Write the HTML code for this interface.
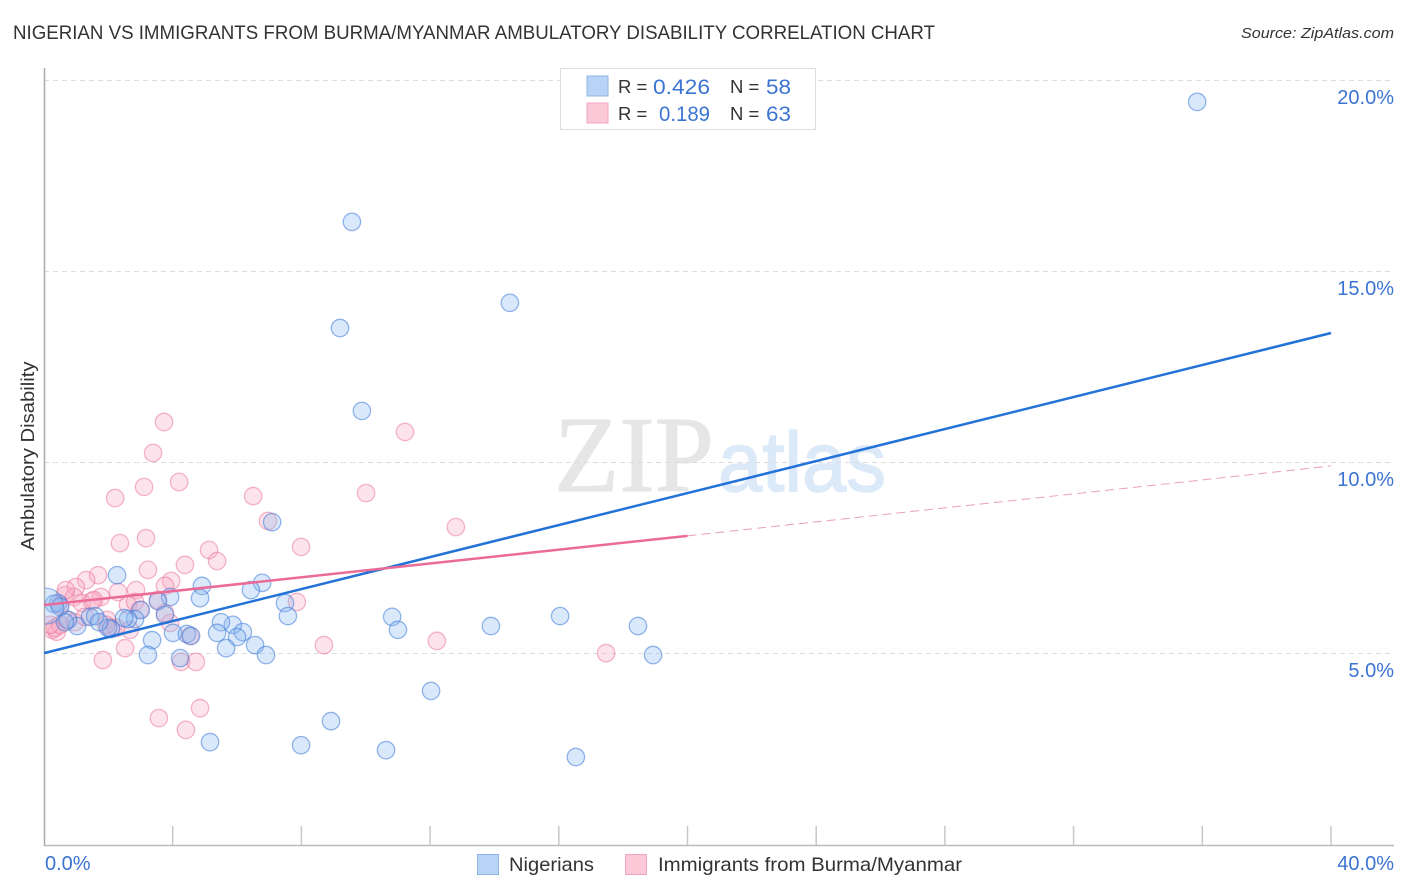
<!DOCTYPE html>
<html lang="en">
<head>
<meta charset="utf-8">
<title>Nigerian vs Immigrants from Burma/Myanmar Ambulatory Disability Correlation Chart</title>
<style>
html,body{margin:0;padding:0;background:#fff;}
svg{display:block;font-family:"Liberation Sans",sans-serif;}
</style>
</head>
<body>
<svg id="chart" xmlns="http://www.w3.org/2000/svg" width="1406" height="892" viewBox="0 0 1406 892">
  <defs>
    <clipPath id="plot-clip"><rect x="45" y="60" width="1349" height="785"/></clipPath>
  </defs>
  <rect x="0" y="0" width="1406" height="892" fill="#ffffff"/>
  <text x="13" y="39" font-size="19.5" fill="#333333" textLength="922" lengthAdjust="spacingAndGlyphs">NIGERIAN VS IMMIGRANTS FROM BURMA/MYANMAR AMBULATORY DISABILITY CORRELATION CHART</text>
  <text x="1394" y="38" font-size="15" font-style="italic" fill="#333333" text-anchor="end" textLength="153" lengthAdjust="spacingAndGlyphs">Source: ZipAtlas.com</text>

  <g>
    <text x="554" y="491" font-family="'Liberation Serif',serif" font-size="108" fill="#e6e6e6" stroke="#e6e6e6" stroke-width="1" textLength="160" lengthAdjust="spacingAndGlyphs">ZIP</text>
    <text x="718" y="491" font-size="84" fill="#dce9f9" stroke="#dce9f9" stroke-width="1.5" textLength="168" lengthAdjust="spacingAndGlyphs">atlas</text>
  </g>

  <g id="grid"></g>
  <g id="axes"></g>
  <g id="points" clip-path="url(#plot-clip)"></g>
  <g id="trends"></g>

  <text transform="translate(34,456) rotate(-90)" font-size="18.5" fill="#333333" text-anchor="middle" textLength="189" lengthAdjust="spacingAndGlyphs">Ambulatory Disability</text>

  <g>
    <rect x="560.5" y="68.5" width="255" height="61" fill="#ffffff" stroke="#dddddd" stroke-width="1"/>
    <rect x="587" y="76" width="21" height="20" fill="#b9d3f6" stroke="#8db4e6" stroke-width="1"/>
    <rect x="587" y="103" width="21" height="20" fill="#fbc8d8" stroke="#f0a6bf" stroke-width="1"/>
    <text x="618" y="93" font-size="18.5" fill="#333333">R =</text>
    <text x="653" y="94" font-size="21.5" fill="#3b74d2" textLength="57" lengthAdjust="spacingAndGlyphs">0.426</text>
    <text x="730" y="93" font-size="18.5" fill="#333333">N =</text>
    <text x="766" y="94" font-size="21.5" fill="#3b74d2" textLength="25" lengthAdjust="spacingAndGlyphs">58</text>
    <text x="618" y="120" font-size="18.5" fill="#333333">R =</text>
    <text x="659" y="121" font-size="21.5" fill="#3b74d2" textLength="51" lengthAdjust="spacingAndGlyphs">0.189</text>
    <text x="730" y="120" font-size="18.5" fill="#333333">N =</text>
    <text x="766" y="121" font-size="21.5" fill="#3b74d2" textLength="25" lengthAdjust="spacingAndGlyphs">63</text>
  </g>

  <g>
    <rect x="477.5" y="854.5" width="21" height="20" fill="#b9d3f6" stroke="#8db4e6" stroke-width="1"/>
    <text x="509" y="871" font-size="19.5" fill="#333333" textLength="85" lengthAdjust="spacingAndGlyphs">Nigerians</text>
    <rect x="625.5" y="854.5" width="21" height="20" fill="#fbc8d8" stroke="#f0a6bf" stroke-width="1"/>
    <text x="658" y="871" font-size="19.5" fill="#333333" textLength="304" lengthAdjust="spacingAndGlyphs">Immigrants from Burma/Myanmar</text>
  </g>
</svg>
<script>
// ---- chart data (percent values) ----
const yTickValues = [5, 10, 15, 20];
const yTickLabels = ["5.0%", "10.0%", "15.0%", "20.0%"];
const xTickValues = [4, 8, 12, 16, 20, 24, 28, 32, 36, 40];
const xEndValues = [0, 40];
const xEndLabels = ["0.0%", "40.0%"];

const nigerianX = [35.84,9.57,14.48,9.20,9.88,7.09,2.27,6.78,4.91,6.43,3.92,4.85,7.49,3.54,7.58,10.82,16.04,13.89,18.46,11.00,18.93,3.76,3.01,2.83,2.61,2.49,5.87,5.50,4.01,5.38,6.18,4.44,4.57,6.00,3.36,5.66,6.56,6.90,3.23,4.23,12.03,8.92,5.16,7.99,10.63,16.53,0.44,0.31,1.03,1.43,1.59,2.08,1.99,0.75,1.71,0.65,0.50];
const nigerianY = [19.44,16.30,14.18,13.52,11.35,8.44,7.05,6.85,6.77,6.66,6.48,6.45,6.32,6.37,5.98,5.96,5.98,5.72,5.72,5.62,4.96,6.01,6.14,5.90,5.90,5.93,5.75,5.82,5.54,5.54,5.56,5.51,5.46,5.43,5.35,5.14,5.22,4.96,4.96,4.88,4.02,3.23,2.68,2.60,2.47,2.29,6.32,6.30,5.72,5.96,5.98,5.64,5.67,5.88,5.82,5.82,6.22];
const nigerianLargeX = [0.05];
const nigerianLargeY = [6.24];

const burmaX = [3.73,3.39,11.22,4.20,3.11,2.21,6.50,10.01,6.96,12.80,2.36,3.17,7.99,5.13,5.38,4.38,3.23,1.68,1.31,3.95,3.76,0.99,2.30,2.86,0.65,1.77,3.54,0.93,7.86,2.61,1.18,2.83,1.49,1.55,0.50,2.67,2.24,3.92,3.76,4.54,2.52,8.70,12.21,17.47,1.83,4.26,4.72,4.85,3.57,4.41,0.25,0.40,0.34,0.50,0.71,0.96,1.96,2.08,0.19,2.98,1.27,0.68,1.93];
const burmaY = [11.06,10.25,10.80,9.49,9.36,9.07,9.12,9.20,8.47,8.31,7.89,8.02,7.79,7.71,7.42,7.32,7.19,7.05,6.92,6.90,6.77,6.74,6.61,6.66,6.53,6.48,6.40,6.48,6.35,6.27,6.32,6.35,6.37,6.40,6.27,5.62,5.67,5.80,6.06,5.46,5.14,5.22,5.33,5.01,4.83,4.78,4.78,3.57,3.31,3.00,5.62,5.57,5.67,5.75,5.88,5.82,5.88,5.67,5.75,6.14,5.96,6.66,5.75];

const nigerianTrendX = [0, 40];
const nigerianTrendY = [5.01, 13.39];
const burmaTrendX = [0, 20];
const burmaTrendY = [6.27, 8.08];
const burmaProjectionX = [20, 40];
const burmaProjectionY = [8.08, 9.91];

// ---- scales ----
const NS = "http://www.w3.org/2000/svg";
function xScale(v) { return 44 + v * 32.175; }
function yScale(v) { return 844.5 - v * 38.2; }

function make(parent, tag, attrs) {
  const el = document.createElementNS(NS, tag);
  for (const k in attrs) el.setAttribute(k, attrs[k]);
  parent.appendChild(el);
  return el;
}

const gridG = document.getElementById("grid");
const axesG = document.getElementById("axes");
const trendsG = document.getElementById("trends");
const pointsG = document.getElementById("points");

// ---- gridlines and y tick labels ----
yTickValues.forEach(function (v, i) {
  const line = make(gridG, "line", {x1: 44, x2: 1394, y1: yScale(v), y2: yScale(v), stroke: "#dcdcdc", "stroke-width": 1, "stroke-dasharray": "5 4"});
  
  
  const label = make(axesG, "text", {x: 1394, y: yScale(v) + 23.5, "font-size": 20, fill: "#3b74d2", "text-anchor": "end"});
  
  
  label.textContent = yTickLabels[i];
});

// ---- axis lines ----
const yAxis = make(axesG, "line", {x1: 44.5, x2: 44.5, y1: 68, y2: 846, stroke: "#aaaaaa", "stroke-width": 1.5});


const xAxis = make(axesG, "line", {x1: 44, x2: 1394, y1: 845.5, y2: 845.5, stroke: "#bbbbbb", "stroke-width": 1.5});



xTickValues.forEach(function (v) {
  const tick = make(axesG, "line", {x1: xScale(v), x2: xScale(v), y1: 826, y2: 845, stroke: "#c8c8c8", "stroke-width": 1.5});
  
  
});

xEndValues.forEach(function (v, i) {
  const label = make(axesG, "text", {x: i === 0 ? xScale(v) + 1 : 1394, y: 870, "font-size": 20, fill: "#3b74d2", "text-anchor": i === 0 ? "start" : "end"});
  
  
  label.textContent = xEndLabels[i];
});

// ---- points ----
burmaX.forEach(function (v, i) {
  const c = make(pointsG, "circle", {cx: xScale(v), cy: yScale(burmaY[i]), r: 8.7, fill: "#f8a9c2", "fill-opacity": 0.33, stroke: "#e96f98", "stroke-opacity": 0.5, "stroke-width": 1.3});
  
  
});
nigerianX.forEach(function (v, i) {
  const c = make(pointsG, "circle", {cx: xScale(v), cy: yScale(nigerianY[i]), r: 8.7, fill: "#8ab6ee", "fill-opacity": 0.32, stroke: "#3f7bd8", "stroke-opacity": 0.55, "stroke-width": 1.3});
  
  
});
nigerianLargeX.forEach(function (v, i) {
  const c = make(pointsG, "circle", {cx: xScale(v), cy: yScale(nigerianLargeY[i]), r: 18, fill: "#8ab6ee", "fill-opacity": 0.32, stroke: "#3f7bd8", "stroke-opacity": 0.5, "stroke-width": 1.3});
  
  
});

// ---- trend lines ----
const blueTrend = make(trendsG, "line", {x1: xScale(nigerianTrendX[0]), y1: yScale(nigerianTrendY[0]), x2: xScale(nigerianTrendX[1]), y2: yScale(nigerianTrendY[1]), stroke: "#2272d8", "stroke-width": 2.5});


const pinkTrend = make(trendsG, "line", {x1: xScale(burmaTrendX[0]), y1: yScale(burmaTrendY[0]), x2: xScale(burmaTrendX[1]), y2: yScale(burmaTrendY[1]), stroke: "#ea6b98", "stroke-width": 2.5});


const pinkProjection = make(trendsG, "line", {x1: xScale(burmaProjectionX[0]), y1: yScale(burmaProjectionY[0]), x2: xScale(burmaProjectionX[1]), y2: yScale(burmaProjectionY[1]), stroke: "#eaa0ba", "stroke-width": 1, "stroke-dasharray": "9 5"});


</script>
</body>
</html>
